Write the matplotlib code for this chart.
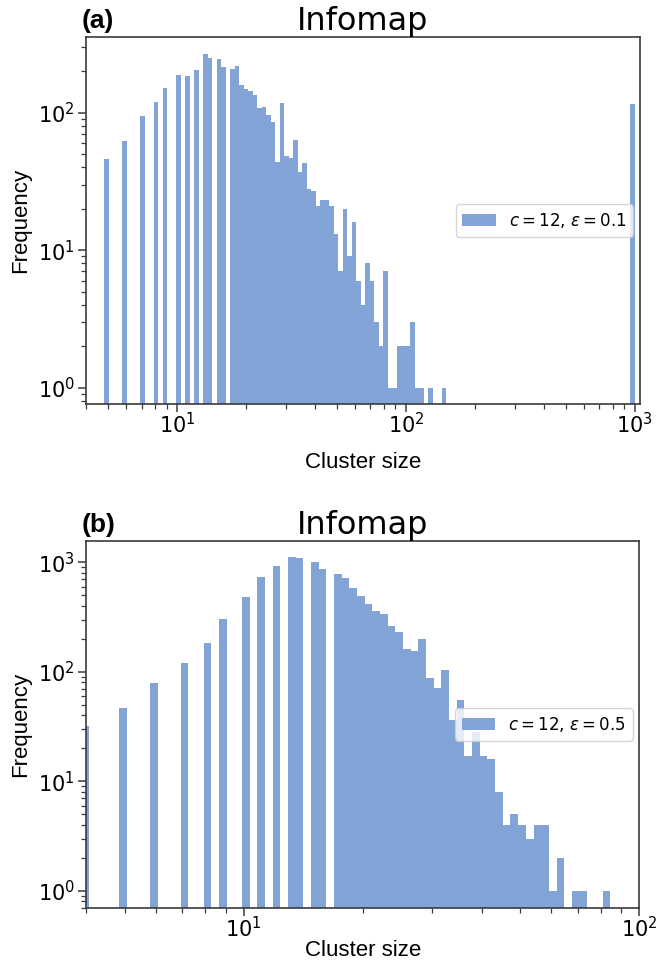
import numpy as np
import matplotlib
matplotlib.use("Agg")
import matplotlib.pyplot as plt

# ---------------- data (counts per logarithmic bin) ----------------
# panel (a): 118 log bins from ~4.81 to 1000
top_counts = [
    46, 0, 0, 0, 62, 0, 0, 0, 95, 0,
    0, 120, 0, 151, 0, 0, 188, 0, 185, 0,
    205, 0, 267, 250, 0, 246, 215, 0, 208, 219,
    159, 149, 144, 135, 108, 110, 96, 86, 44, 118,
    48, 47, 63, 37, 43, 28, 27, 21, 23, 23,
    21, 13, 7, 20, 9, 16, 6, 4, 8, 6,
    3, 2, 7, 1, 1, 2, 2, 2, 3, 1,
    1, 0, 1, 0, 0, 1, 0, 0, 0, 0,
    0, 0, 0, 0, 0, 0, 0, 0, 0, 0,
    0, 0, 0, 0, 0, 0, 0, 0, 0, 0,
    0, 0, 0, 0, 0, 0, 0, 0, 0, 0,
    0, 0, 0, 0, 0, 0, 0, 116,
]
# panel (b): 69 log bins from ~3.88 to ~84.6
bottom_counts = [
    32, 0, 0, 0, 0,
    47, 0, 0, 0, 79, 0, 0, 0, 120, 0,
    0, 183, 0, 303, 0, 0, 481, 0, 733, 0,
    923, 0, 1115, 1092, 0, 1004, 867, 0, 780, 718,
    581, 491, 415, 358, 336, 261, 230, 161, 155, 199,
    88, 71, 104, 36, 55, 17, 28, 17, 16, 8,
    4, 5, 4, 3, 4, 4, 1, 2, 0, 1,
    1, 0, 0, 1,
]
top_label = r"$c = 12$, $\varepsilon = 0.1$"
bottom_label = r"$c = 12$, $\varepsilon = 0.5$"
panel_letters = ["(a)", "(b)"]
title_text = "Infomap"
xlabel_text = "Cluster size"
ylabel_text = "Frequency"

# ---------------- style ----------------
BAR = "#81A3D5"
SPINE = "#3a3a3a"

fig = plt.figure(figsize=(6.59, 9.67), dpi=100)

def panel(rect, counts, log_lo, log_hi, label, letter, xlim, ylim, xlabel_y):
    ax = fig.add_axes(rect)
    edges = np.logspace(log_lo, log_hi, len(counts) + 1)
    centers = np.sqrt(edges[:-1] * edges[1:])
    ax.hist(centers, bins=edges, weights=counts, color=BAR, label=label)
    ax.set_xscale("log")
    ax.set_yscale("log")
    ax.set_xlim(*xlim)
    ax.set_ylim(*ylim)
    for s in ax.spines.values():
        s.set_color(SPINE)
        s.set_linewidth(1.2)
    ax.tick_params(which="major", length=6, width=1.1, color=SPINE,
                   labelsize=15, pad=2)
    ax.tick_params(which="minor", length=3.5, width=0.9, color=SPINE)
    ax.tick_params(axis="x", which="major", pad=0)
    ax.set_xlabel(xlabel_text, fontsize=16, family="Liberation Sans")
    ax.xaxis.set_label_coords(0.5, xlabel_y)
    ax.set_ylabel(ylabel_text, fontsize=16, family="Liberation Sans", labelpad=5)
    ax.set_title(title_text, fontsize=23, pad=5)
    ax.text(-0.008, 1.01, letter, transform=ax.transAxes, fontsize=19,
            fontweight="bold", family="Liberation Sans", ha="left", va="bottom")
    ax.legend(loc="center right", fontsize=12, handlelength=2.0,
              framealpha=0.8, borderaxespad=0.4)
    return ax

panel([0.1305, 0.5822, 0.8407, 0.3795], top_counts, 0.6825, 3.0,
      top_label, panel_letters[0], (4.0, 1054), (0.76, 355), -0.13)
panel([0.1305, 0.0613, 0.8396, 0.3792], bottom_counts, 0.5886, 1.9272,
      bottom_label, panel_letters[1], (3.99, 100.2), (0.70, 1566), -0.088)

fig.savefig("out.png", dpi=100)
